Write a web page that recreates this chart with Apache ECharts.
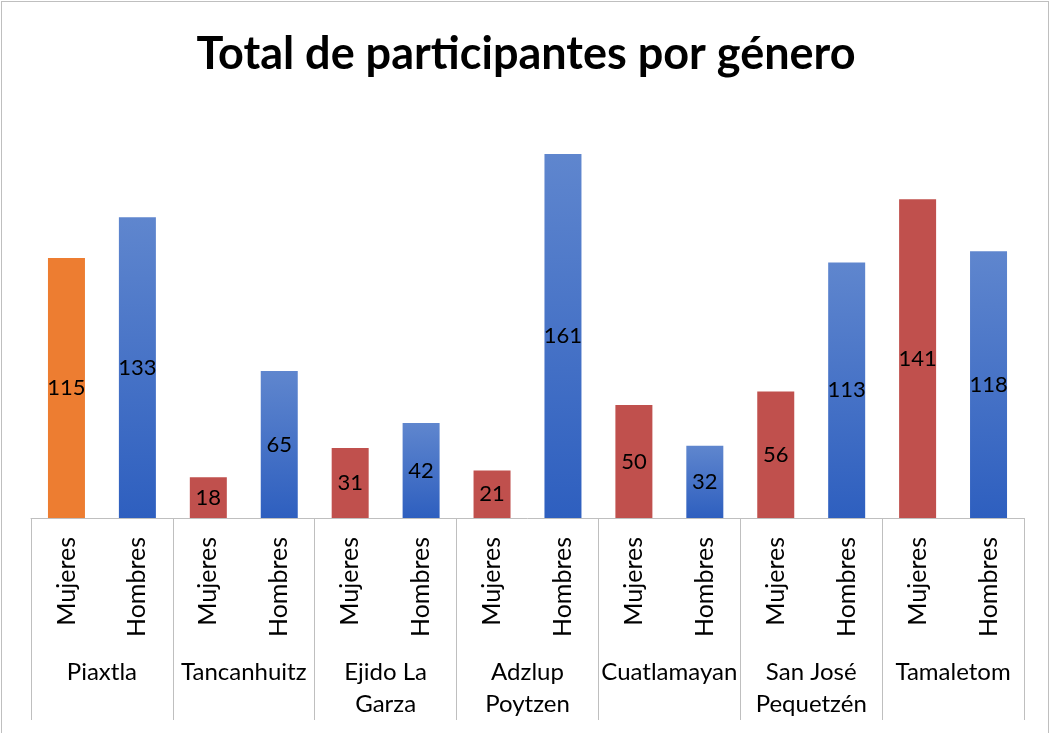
<!DOCTYPE html>
<html>
<head>
<meta charset="utf-8">
<script src="https://cdn.jsdelivr.net/npm/echarts@6/dist/echarts.min.js"></script>
<style>
  html, body { margin: 0; padding: 0; background: #fff; }
  #frame {
    position: absolute; left: 1px; top: 1px;
    width: 1048px; height: 760px;
    border: 1px solid #bfbfbf; box-sizing: border-box;
  }
  #chart { position: absolute; left: 0; top: 0; width: 1052px; height: 733px; }
</style>
</head>
<body>
<div id="frame"></div>
<div id="chart"></div>
<script>
// localidades y valores por género
const localidades = ['Piaxtla', 'Tancanhuitz', 'Ejido La\nGarza', 'Adzlup\nPoytzen', 'Cuatlamayan', 'San José\nPequetzén', 'Tamaletom'];
const generos = ['Mujeres', 'Hombres'];
const mujeres = [115, 18, 31, 21, 50, 56, 141];
const hombres = [133, 65, 42, 161, 32, 113, 118];

const font = 'Lato, "Noto Sans", sans-serif';

// colores
const naranja = '#ED7D31';
const rojo = '#C0504D';
const azul = new echarts.graphic.LinearGradient(0, 0, 0, 1, [
  { offset: 0, color: '#5F86CE' },
  { offset: 1, color: '#2E5FBF' }
]);

// categorías y barras intercaladas (Mujeres, Hombres) por localidad
const categorias = [];
const barras = [];
localidades.forEach((loc, i) => {
  categorias.push(generos[0], generos[1]);
  barras.push({ value: mujeres[i], itemStyle: { color: i === 0 ? naranja : rojo } });
  barras.push({ value: hombres[i], itemStyle: { color: azul } });
});

const myChart = echarts.init(document.getElementById('chart'));

const option = {
  animation: false,
  title: {
    text: 'Total de participantes por género',
    left: 'center',
    top: 27,
    textStyle: { fontFamily: font, fontSize: 45, fontWeight: 'bold', color: '#000' }
  },
  grid: { left: 31, right: 28, top: 111, bottom: 215 },
  xAxis: [
    {
      type: 'category',
      position: 'bottom',
      data: categorias,
      axisLine: { lineStyle: { color: '#bfbfbf', width: 1 } },
      axisTick: { show: false },
      axisLabel: {
        rotate: 90,
        margin: 19,
        interval: 0,
        fontFamily: font,
        fontSize: 25,
        color: '#000'
      }
    },
    {
      type: 'category',
      position: 'bottom',
      data: localidades,
      axisLine: { show: false },
      axisTick: { show: true, length: 202, lineStyle: { color: '#bfbfbf', width: 1 } },
      axisLabel: {
        margin: 138,
        interval: 0,
        fontFamily: font,
        fontSize: 24,
        lineHeight: 32,
        color: '#000'
      }
    }
  ],
  yAxis: {
    type: 'value',
    min: 0,
    max: 180,
    show: false,
    splitLine: { show: false }
  },
  series: [
    {
      type: 'bar',
      xAxisIndex: 0,
      barWidth: 37,
      data: barras,
      label: {
        show: true,
        position: 'inside',
        fontFamily: font,
        fontSize: 22,
        color: '#000'
      }
    }
  ]
};

myChart.setOption(option);
</script>
</body>
</html>
